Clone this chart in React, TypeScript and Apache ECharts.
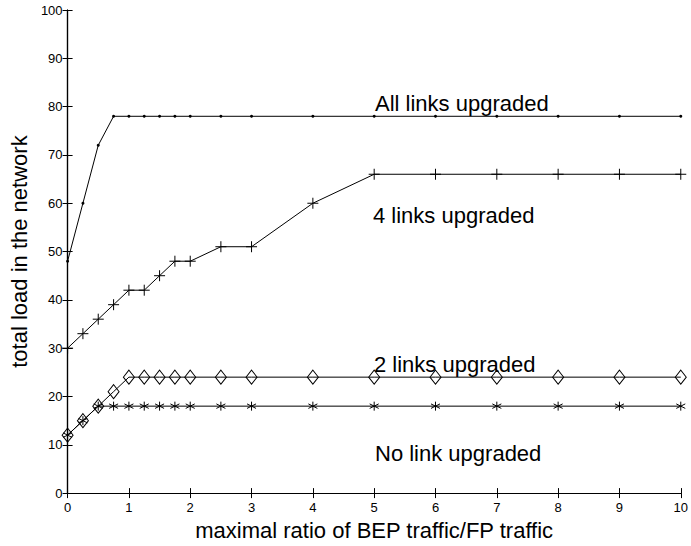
import React, { useEffect, useRef } from "react";
import * as echarts from "echarts";

const xAll = [0, 0.25, 0.5, 0.75, 1, 1.25, 1.5, 1.75, 2, 2.5, 3, 4, 5, 6, 7, 8, 9, 10];
const allLinks = [48, 60, 72, 78, 78, 78, 78, 78, 78, 78, 78, 78, 78, 78, 78, 78, 78, 78];
const fourLinks = [30, 33, 36, 39, 42, 42, 45, 48, 48, 51, 51, 60, 66, 66, 66, 66, 66, 66];
const twoLinks = [12, 15, 18, 21, 24, 24, 24, 24, 24, 24, 24, 24, 24, 24, 24, 24, 24, 24];
const noLink = [12, 15, 18, 18, 18, 18, 18, 18, 18, 18, 18, 18, 18, 18, 18, 18, 18, 18];

const seriesNames = ["All links upgraded", "4 links upgraded", "2 links upgraded", "No link upgraded"];
const xTitle = "maximal ratio of BEP traffic/FP traffic";
const yTitle = "total load in the network";

const FONT = "'Liberation Sans', Arial, Helvetica, sans-serif";

const pair = (ys: number[]) => xAll.map((x, i) => [x, ys[i]]);

export default function App() {
  const ref = useRef<HTMLDivElement>(null);
  useEffect(() => {
    if (!ref.current) return;
    const chart = echarts.init(ref.current, null, { renderer: "svg" });
    const axisLine = { show: true, lineStyle: { color: "#000", width: 1.2 } };
    const axisTick = { show: true, inside: true, length: 5, lineStyle: { color: "#000", width: 1 } };
    const baseSeries = {
      type: "line" as const,
      lineStyle: { color: "#000", width: 1 },
      emphasis: { disabled: true },
      silent: true,
      z: 3,
    };
    chart.setOption({
      animation: false,
      backgroundColor: "#fff",
      grid: { left: 62, top: 10, right: 7, bottom: 45 },
      xAxis: [
        {
          type: "value",
          min: 0,
          max: 10,
          interval: 1,
          position: "bottom",
          axisLine,
          axisTick,
          splitLine: { show: false },
          axisLabel: { color: "#000", fontSize: 13, fontFamily: FONT, margin: 8 },
          name: xTitle,
          nameLocation: "middle",
          nameGap: 25,
          nameTextStyle: { color: "#000", fontSize: 22, fontFamily: FONT },
        },
        {
          type: "value",
          min: 0,
          max: 10,
          interval: 1,
          position: "top",
          axisLine,
          axisTick,
          splitLine: { show: false },
          axisLabel: { show: false },
        },
      ],
      yAxis: [
        {
          type: "value",
          min: 0,
          max: 100,
          interval: 10,
          position: "left",
          axisLine,
          axisTick,
          splitLine: { show: false },
          axisLabel: { color: "#000", fontSize: 13, fontFamily: FONT, margin: 5 },
          name: yTitle,
          nameLocation: "middle",
          nameGap: 30,
          nameTextStyle: { color: "#000", fontSize: 22, fontFamily: FONT },
        },
        {
          type: "value",
          min: 0,
          max: 100,
          interval: 10,
          position: "right",
          axisLine,
          axisTick,
          splitLine: { show: false },
          axisLabel: { show: false },
        },
      ],
      series: [
        {
          ...baseSeries,
          name: seriesNames[0],
          data: pair(allLinks),
          symbol: "circle",
          symbolSize: 3,
          itemStyle: { color: "#000", borderColor: "#000", borderWidth: 0 },
        },
        {
          ...baseSeries,
          name: seriesNames[1],
          data: pair(fourLinks),
          symbol: "path://M0,5L10,5M5,0L5,10",
          symbolSize: 11,
          itemStyle: { color: "none", borderColor: "#000", borderWidth: 1 },
        },
        {
          ...baseSeries,
          name: seriesNames[2],
          data: pair(twoLinks),
          symbol: "diamond",
          symbolSize: [11, 14],
          itemStyle: { color: "none", borderColor: "#000", borderWidth: 1 },
        },
        {
          ...baseSeries,
          name: seriesNames[3],
          data: pair(noLink),
          symbol: "path://M5,0L5,10M0.7,2.5L9.3,7.5M0.7,7.5L9.3,2.5",
          symbolSize: 9,
          itemStyle: { color: "none", borderColor: "#000", borderWidth: 1 },
        },
      ],
      graphic: [
        { type: "text", left: 375, top: 92, style: { text: seriesNames[0], fill: "#000", font: `22px ${FONT}` } },
        { type: "text", left: 373, top: 204, style: { text: seriesNames[1], fill: "#000", font: `22px ${FONT}` } },
        { type: "text", left: 374, top: 353, style: { text: seriesNames[2], fill: "#000", font: `22px ${FONT}` } },
        { type: "text", left: 375, top: 442, style: { text: seriesNames[3], fill: "#000", font: `22px ${FONT}` } },
      ],
    });
    return () => chart.dispose();
  }, []);
  return <div ref={ref} style={{ position: "fixed", left: 0, top: 0, width: 691, height: 546 }} />;
}
